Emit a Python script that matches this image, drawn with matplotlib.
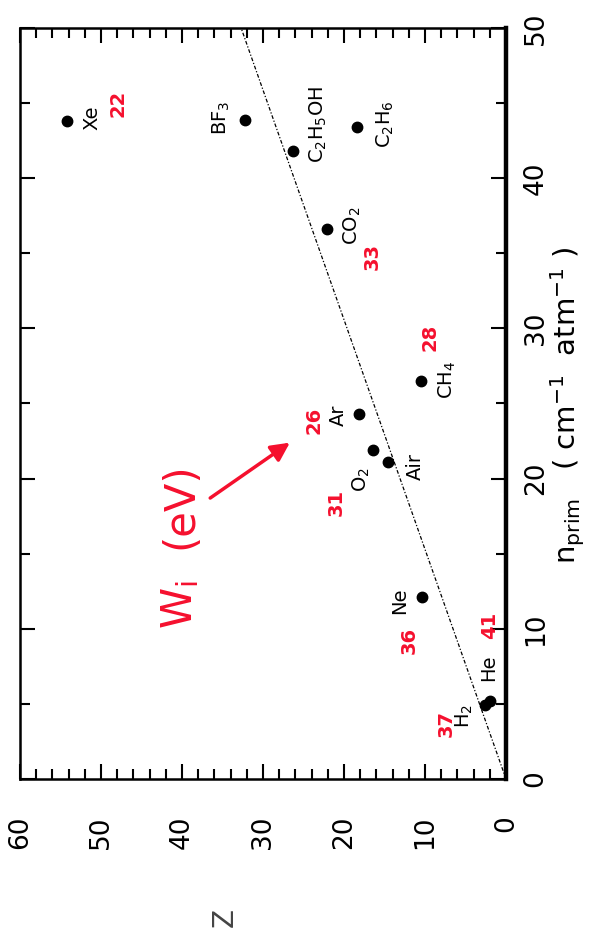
import numpy as np
import matplotlib
matplotlib.use("Agg")
import matplotlib.pyplot as plt
from matplotlib.ticker import MultipleLocator

plt.rcParams['font.family'] = ['DejaVu Sans']
plt.rcParams['mathtext.default'] = 'regular'

# gas data: atomic number Z vs primary ionisation n_prim, with W_i (eV)
gases = ['Xe', 'BF$_3$', 'C$_2$H$_5$OH', 'C$_2$H$_6$', 'CO$_2$', 'CH$_4$',
         'Ar', 'O$_2$', 'Air', 'Ne', 'He', 'H$_2$']
z_val = [54.2, 32.2, 26.3, 18.4, 22.1, 10.5, 18.1, 16.4, 14.6, 10.4, 2.0, 2.6]
n_prim = [43.8, 43.9, 41.8, 43.4, 36.6, 26.5, 24.3, 21.9, 21.1, 12.1, 5.2, 4.9]
w_i = ['22', '', '', '', '33', '28', '26', '31', '', '36', '41', '37']

# straight-line fit through the origin
fit_n = [0, 50]
fit_z = [0, 32.7]

# label placement (Z, n) for names and W_i numbers
name_pos = [(51.1, 44.0), (35.2, 44.0), (23.2, 43.6), (14.9, 43.6), (19.0, 36.8),
            (7.3, 26.6), (20.7, 24.2), (17.9, 19.9), (11.2, 20.8), (13.1, 11.9),
            (2.2, 7.4), (5.1, 4.2)]
wi_pos = [(47.9, 45.0), None, None, None, (16.5, 34.8), (9.4, 29.4),
          (23.7, 23.9), (21.0, 18.4), None, (11.9, 9.2), (2.0, 10.2), (7.4, 3.7)]

red = '#f5102e'

fig = plt.figure(figsize=(5.91, 9.46), dpi=100)
ax = fig.add_axes([20 / 591, 1 - 779 / 946, 486 / 591, 751 / 946])

# the whole chart is turned on its side: Z runs right->left, n_prim bottom->top
ax.plot(fit_z, fit_n, color='black', lw=0.9, linestyle=(0, (3, 1.5, 1, 1.5)))
ax.plot(z_val, n_prim, 'o', color='black', markersize=7.5, zorder=3)

for i, g in enumerate(gases):
    zx, ny = name_pos[i]
    ax.text(zx, ny, g, rotation=90, ha='center', va='center', fontsize=14)
    if w_i[i]:
        zx, ny = wi_pos[i]
        ax.text(zx, ny, w_i[i], rotation=90, ha='center', va='center',
                fontsize=14, color=red, fontweight='bold')

ax.text(40.2, 11.6, 'W$_i$', rotation=90, ha='center', va='center', fontsize=30, color=red)
ax.text(40.2, 18.2, '(eV)', rotation=90, ha='center', va='center', fontsize=30, color=red)
ax.annotate('', xy=(26.4, 22.5), xytext=(36.8, 18.6),
            arrowprops=dict(arrowstyle='-|>', color=red, lw=2.5, mutation_scale=28))

ax.set_xlim(60, 0)
ax.set_ylim(0, 50)
ax.xaxis.set_major_locator(MultipleLocator(10))
ax.xaxis.set_minor_locator(MultipleLocator(2))
ax.yaxis.set_major_locator(MultipleLocator(10))
ax.yaxis.set_minor_locator(MultipleLocator(5))
ax.tick_params(which='both', direction='in', top=True, bottom=True, left=True, right=True,
               labelleft=False, labelright=True, width=1.5)
ax.tick_params(which='major', length=11)
ax.tick_params(which='minor', length=7)
ax.tick_params(axis='x', labelrotation=90, labelsize=19, pad=26)
ax.tick_params(axis='y', labelrotation=90, labelsize=19, pad=12)
for lab in ax.get_yticklabels():
    lab.set_verticalalignment('center')

for s in ['top', 'bottom', 'left']:
    ax.spines[s].set_linewidth(1.8)
ax.spines['right'].set_linewidth(3.2)

fig.text(568 / 591, 1 - 405 / 946, 'n$_{prim}$   ( cm$^{-1}$  atm$^{-1}$ )', rotation=90,
         ha='center', va='center', fontsize=21)
fig.text(225 / 591, 1 - 917 / 946, 'Z', rotation=90, ha='center', va='center',
         fontsize=20, color='#444444')

fig.savefig('out.png', dpi=100)
